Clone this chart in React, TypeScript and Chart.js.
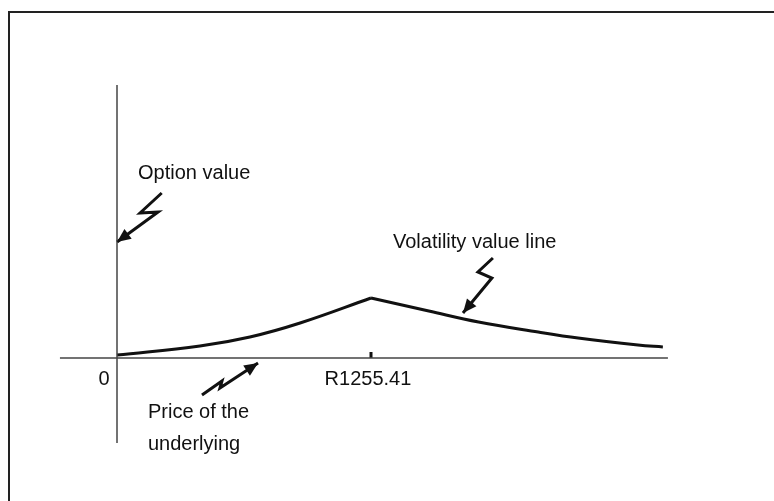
import React, { useEffect, useRef } from "react";
import { Chart, registerables } from "chart.js";

Chart.register(...registerables);

// Underlying price (R) and option value (arbitrary units)
const risingPrices = [0, 410, 657, 905, 1255.41];
const risingValues = [3, 12, 21, 35, 60];
const fallingPrices = [1255.41, 1541, 1787, 2082, 2279, 2575, 2698];
const fallingValues = [60, 47, 36, 26, 20, 13, 11];

const strikePrice = 1255.41;
const strikeTickLabel = "R1255.41";
const originTickLabel = "0";

// Axis extents
const xAxisRange = [-282, 2723];
const yAxisRange = [-85, 273];

// Annotation arrows (price, value)
const optionArrowX = [221, 114, 203, 0];
const optionArrowY = [165, 145, 146, 116];
const volArrowX = [1858, 1784, 1853, 1710];
const volArrowY = [100, 86, 80, 45];
const priceArrowX = [420, 519, 509, 697];
const priceArrowY = [-37, -23, -30, -5];

// Annotation texts
const labelTexts = ["Option value", "Volatility value line", "Price of the", "underlying"];
const labelX = [104, 1364, 153, 153];
const labelY = [179, 110, -60, -92];

const pts = (xs: number[], ys: number[]) => xs.map((x, i) => ({ x, y: ys[i] }));

export default function App() {
  const ref = useRef<HTMLCanvasElement | null>(null);
  useEffect(() => {
    if (!ref.current) return;
    const font = '"Liberation Sans", Arial, sans-serif';
    const arrowHeads = {
      id: "arrowHeads",
      afterDatasetsDraw(chart: any) {
        const ctx = chart.ctx;
        chart.data.datasets.forEach((ds: any, i: number) => {
          if (!ds.arrow) return;
          const meta = chart.getDatasetMeta(i);
          const n = meta.data.length;
          const a = meta.data[n - 2];
          const b = meta.data[n - 1];
          const ang = Math.atan2(b.y - a.y, b.x - a.x);
          const len = 15;
          const w = 0.42;
          ctx.save();
          ctx.fillStyle = "#111";
          ctx.beginPath();
          ctx.moveTo(b.x, b.y);
          ctx.lineTo(b.x - len * Math.cos(ang - w), b.y - len * Math.sin(ang - w));
          ctx.lineTo(b.x - len * Math.cos(ang + w), b.y - len * Math.sin(ang + w));
          ctx.closePath();
          ctx.fill();
          ctx.restore();
        });
      },
      afterDraw(chart: any) {
        const ctx = chart.ctx;
        const xs = chart.scales.x;
        const ys = chart.scales.y;
        ctx.save();
        ctx.fillStyle = "#111";
        ctx.font = `20px ${font}`;
        ctx.textBaseline = "alphabetic";
        ctx.textAlign = "left";
        labelTexts.forEach((t, i) => {
          ctx.fillText(t, xs.getPixelForValue(labelX[i]), ys.getPixelForValue(labelY[i]));
        });
        ctx.textAlign = "center";
        ctx.fillText(originTickLabel, xs.getPixelForValue(-64), ys.getPixelForValue(-27));
        ctx.fillText(strikeTickLabel, xs.getPixelForValue(strikePrice - 15), ys.getPixelForValue(-27));
        ctx.restore();
      },
    };

    const lineDs = (data: any[], extra: any = {}) => ({
      data,
      borderColor: "#111",
      borderWidth: 3,
      pointRadius: 0,
      fill: false,
      ...extra,
    });

    const chart = new Chart(ref.current, {
      type: "line",
      data: {
        datasets: [
          lineDs(pts([xAxisRange[0], xAxisRange[1]], [0, 0]), { borderColor: "#444", borderWidth: 1.5 }),
          lineDs(pts([0, 0], [yAxisRange[0], yAxisRange[1]]), { borderColor: "#444", borderWidth: 1.5 }),
          lineDs(pts([strikePrice, strikePrice], [0, 6]), { borderWidth: 3 }),
          lineDs(pts(risingPrices, risingValues), { tension: 0.4 }),
          lineDs(pts(fallingPrices, fallingValues), { tension: 0.4 }),
          lineDs(pts(optionArrowX, optionArrowY), { borderWidth: 3, arrow: true }),
          lineDs(pts(volArrowX, volArrowY), { borderWidth: 3, arrow: true }),
          lineDs(pts(priceArrowX, priceArrowY), { borderWidth: 3, arrow: true }),
        ] as any,
      },
      options: {
        animation: false,
        responsive: true,
        maintainAspectRatio: false,
        layout: { padding: 0 },
        plugins: { legend: { display: false }, tooltip: { enabled: false } },
        scales: {
          x: { type: "linear", display: false, min: -578.3, max: 3247.3 },
          y: { type: "linear", display: false, min: -143, max: 358 },
        },
      },
      plugins: [arrowHeads],
    });
    return () => chart.destroy();
  }, []);

  return (
    <div style={{ position: "absolute", left: 0, top: 0, width: 774, height: 501, background: "#fff", overflow: "hidden" }}>
      <div
        style={{
          position: "absolute",
          left: 8,
          top: 11,
          width: 800,
          height: 520,
          borderLeft: "2px solid #222",
          borderTop: "2px solid #222",
        }}
      />
      <canvas ref={ref} style={{ position: "absolute", left: 0, top: 0 }} />
    </div>
  );
}
